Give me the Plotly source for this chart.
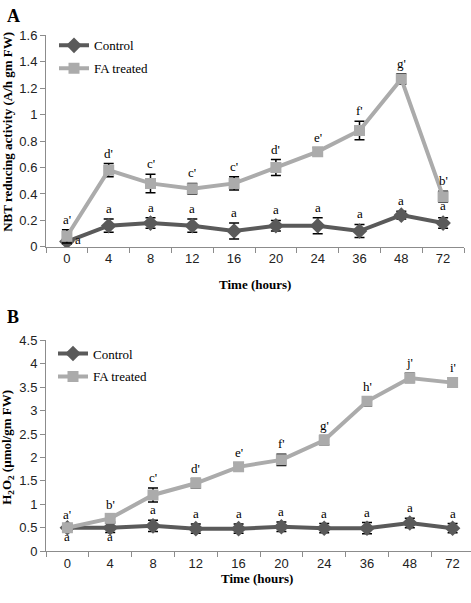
import plotly.graph_objects as go

hours = ["0", "4", "8", "12", "16", "20", "24", "36", "48", "72"]

# Panel A: NBT reducing activity
a_control = [0.04, 0.16, 0.18, 0.16, 0.12, 0.16, 0.16, 0.12, 0.24, 0.18]
a_control_err = [0.02, 0.05, 0.04, 0.05, 0.06, 0.04, 0.06, 0.05, 0.03, 0.04]
a_fa = [0.08, 0.58, 0.48, 0.44, 0.48, 0.60, 0.72, 0.88, 1.27, 0.38]
a_fa_err = [0.05, 0.05, 0.07, 0.04, 0.05, 0.06, 0.03, 0.07, 0.04, 0.04]
a_control_letters = ["a"] * 10
a_fa_letters = ["a'", "d'", "c'", "c'", "c'", "d'", "e'", "f'", "g'", "b'"]

# Panel B: H2O2
b_control = [0.50, 0.50, 0.54, 0.48, 0.48, 0.52, 0.49, 0.49, 0.60, 0.49]
b_control_err = [0.05, 0.10, 0.12, 0.10, 0.10, 0.10, 0.10, 0.12, 0.10, 0.10]
b_fa = [0.50, 0.70, 1.20, 1.45, 1.80, 1.95, 2.37, 3.20, 3.70, 3.60]
b_fa_err = [0.05, 0.07, 0.15, 0.10, 0.08, 0.12, 0.10, 0.10, 0.10, 0.10]
b_control_letters = ["a"] * 10
b_fa_letters = ["a'", "b'", "c'", "d'", "e'", "f'", "g'", "h'", "j'", "i'"]

FW, FH = 471, 603


def X(px):
    return min(1.0, max(0.0, px / FW))


def Y(py):
    return min(1.0, max(0.0, 1 - py / FH))


CTRL = "#5a5a5a"
FA = "#ababab"
SERIF = "Liberation Serif, Times New Roman, serif"
SANS = "Liberation Sans, Arial, sans-serif"

fig = go.Figure()


def add_series(x, y, err, color, symbol, size, name, xa, ya, legend, group):
    fig.add_trace(go.Scatter(
        x=x, y=y, mode="lines+markers", name=name, legendgroup=group,
        line=dict(color=color, width=4),
        marker=dict(symbol=symbol, size=size, color=color),
        error_y=dict(type="data", array=err, color="black", thickness=1.5, width=5),
        xaxis=xa, yaxis=ya, legend=legend,
    ))


add_series(hours, a_control, a_control_err, CTRL, "diamond", 12, "Control", "x", "y", "legend", "a1")
add_series(hours, a_fa, a_fa_err, FA, "square", 11, "FA treated", "x", "y", "legend", "a2")
add_series(hours, b_control, b_control_err, CTRL, "diamond", 12, "Control", "x2", "y2", "legend2", "b1")
add_series(hours, b_fa, b_fa_err, FA, "square", 11, "FA treated", "x2", "y2", "legend2", "b2")

ann = []


def letters(y, err, labs, xref, yref, below=(), special=None):
    for i, (yy, ee, lab) in enumerate(zip(y, err, labs)):
        d = dict(x=i, xref=xref, yref=yref, text=lab, showarrow=False,
                 xanchor="center",
                 font=dict(family=SERIF, size=13, color="black"))
        if i in below:
            d.update(y=yy, yanchor="middle", yshift=-9)
        else:
            d.update(y=yy + ee, yanchor="bottom", yshift=1)
        if special and i in special:
            d.update(special[i])
        ann.append(d)


letters(a_fa, a_fa_err, a_fa_letters, "x", "y")
letters(a_control, a_control_err, a_control_letters, "x", "y",
        special={0: dict(y=a_control[0], yanchor="middle", xshift=11, yshift=2),
                 9: dict(yshift=3)})
letters(b_fa, b_fa_err, b_fa_letters, "x2", "y2")
letters(b_control, b_control_err, b_control_letters, "x2", "y2", below={0, 1})


def label(text, x, y, size, angle=0):
    ann.append(dict(x=X(x), y=Y(y), xref="paper", yref="paper", text=text,
                    xanchor="center", yanchor="middle", textangle=angle,
                    showarrow=False, font=dict(family=SERIF, size=size, color="black")))


label("<b>A</b>", 13, 9, 18)
label("<b>B</b>", 13, 318, 18)
label("<b>NBT reducing activity (A/h gm FW)</b>", 8, 128, 13, -90)
label("<b>H<sub>2</sub>O<sub>2</sub> (µmol/gm FW)</b>", 8, 452, 13, -90)
label("<b>Time (hours)</b>", 255, 285, 13)
label("<b>Time (hours)</b>", 257, 586, 13)

axis_common = dict(showline=True, linecolor="#8c8c8c", linewidth=1, showgrid=False,
                   zeroline=False, ticks="outside", tickcolor="#8c8c8c", ticklen=5,
                   tickfont=dict(family=SANS, size=13, color="#222222"))

# category spacing in window pixels (panel A: 41.8, panel B: 42.8)
a_step, b_step = 41.8, 42.8
a_span = (464 - 46) / a_step
b_span = (FW - 46) / b_step

fig.update_layout(
    width=FW, height=FH, margin=dict(l=0, r=0, t=0, b=0),
    paper_bgcolor="white", plot_bgcolor="white",
    xaxis=dict(domain=[X(46), X(464)], anchor="y", type="category",
               range=[-0.5, -0.5 + a_span], tickson="boundaries", **axis_common),
    yaxis=dict(domain=[Y(246), Y(29)], anchor="x", range=[0, 1.6],
               dtick=0.2, tickformat="~g", **axis_common),
    xaxis2=dict(domain=[X(46), 1.0], anchor="y2", type="category",
                range=[-0.5, -0.5 + b_span], tickson="boundaries", **axis_common),
    yaxis2=dict(domain=[Y(558), Y(342)], anchor="x2", range=[0, 4.5],
                dtick=0.5, tickformat="~g", **axis_common),
    legend=dict(x=X(54), y=Y(24), xanchor="left", yanchor="top",
                bgcolor="rgba(0,0,0,0)", font=dict(family=SERIF, size=13, color="black"),
                itemwidth=30, tracegroupgap=3),
    legend2=dict(x=X(53), y=Y(340), xanchor="left", yanchor="top",
                 bgcolor="rgba(0,0,0,0)", font=dict(family=SERIF, size=13, color="black"),
                 itemwidth=30, tracegroupgap=3),
    annotations=ann,
)

# remove the browser's default 8px body margin so the figure fills the window
fig.write_html("out.html", config={"displayModeBar": False},
               post_script="document.body.style.margin='0';")
